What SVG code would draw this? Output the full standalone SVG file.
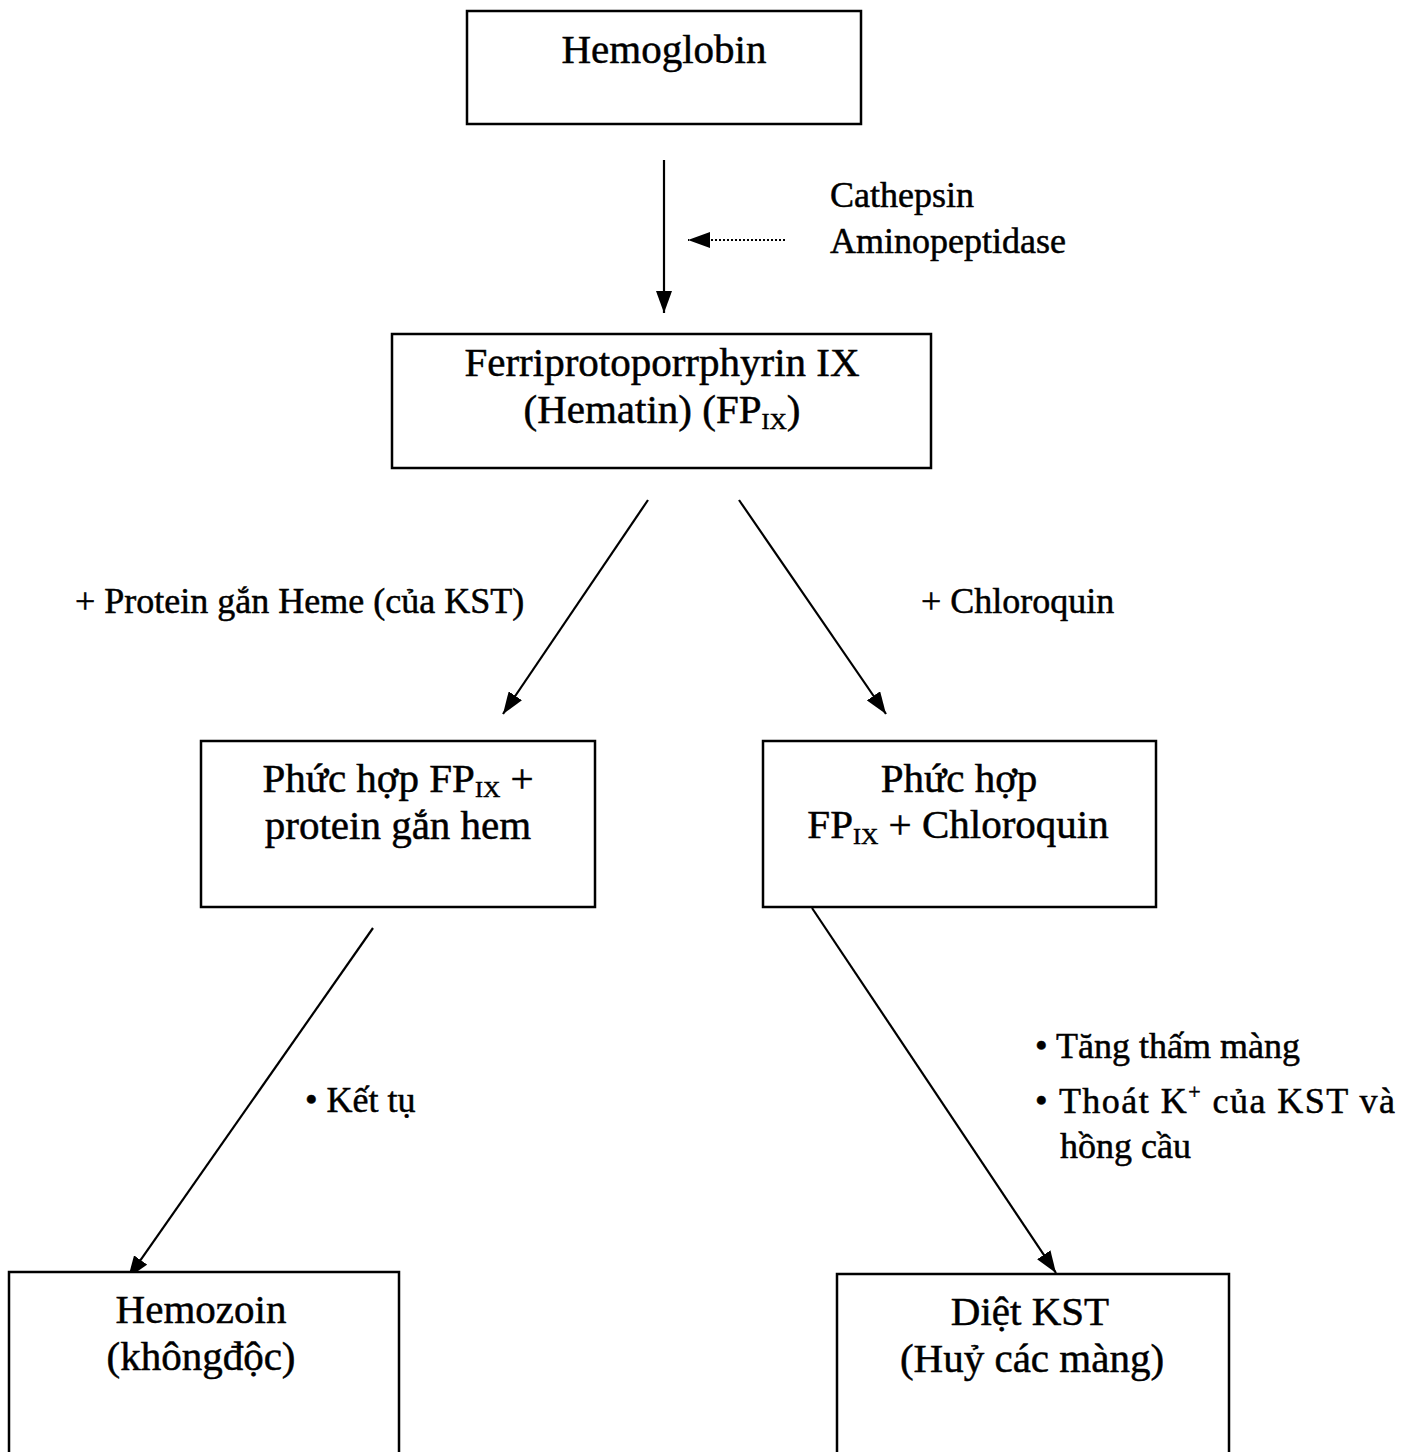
<svg xmlns="http://www.w3.org/2000/svg" width="1409" height="1452" viewBox="0 0 1409 1452">
  <style>
    .box { fill: #fff; stroke: #000; stroke-width: 2.5; }
    .t { font-family: "Liberation Serif", "Times New Roman", serif; fill: #000; stroke: #000; stroke-width: 0.5; }
    .big { font-size: 41px; text-anchor: middle; }
    .lbl { font-size: 36px; }
    .sub { font-size: 24px; }
    .edge { stroke: #000; stroke-width: 2.2; fill: none; }
  </style>
  <defs>
    <marker id="head" viewBox="0 0 22 16" refX="22" refY="8" markerWidth="22" markerHeight="16" markerUnits="userSpaceOnUse" orient="auto">
      <path d="M0,0 L22,8 L0,16 z" fill="#000"/>
    </marker>
  </defs>

  <rect width="1409" height="1452" fill="#fff"/>

  <g id="connectors">
    <line class="edge" x1="664" y1="160" x2="664" y2="313" marker-end="url(#head)"/>
    <line class="edge" x1="785" y1="240" x2="688" y2="240" stroke-dasharray="2 2" stroke-width="1.6" marker-end="url(#head)"/>
    <line class="edge" x1="648" y1="500" x2="503" y2="714" marker-end="url(#head)"/>
    <line class="edge" x1="739" y1="500" x2="886" y2="714" marker-end="url(#head)"/>
    <line class="edge" x1="373" y1="928" x2="128" y2="1278" marker-end="url(#head)"/>
    <line class="edge" x1="812" y1="908" x2="1056" y2="1273" marker-end="url(#head)"/>
  </g>

  <g id="hemoglobin">
    <rect class="box" x="467" y="11" width="394" height="113"/>
    <text class="t big" x="664" y="63">Hemoglobin</text>
  </g>

  <g id="enzymes">
    <text class="t lbl" x="830" y="207">Cathepsin</text>
    <text class="t lbl" x="830" y="253">Aminopeptidase</text>
  </g>

  <g id="hematin">
    <rect class="box" x="392" y="334" width="539" height="134"/>
    <text class="t big" x="662" y="376">Ferriprotoporrphyrin IX</text>
    <text class="t big" x="662" y="423">(Hematin) (FP<tspan class="sub" dy="6">IX</tspan><tspan dy="-6">)</tspan></text>
  </g>

  <g id="label-protein">
    <text class="t lbl" x="75" y="613">+ Protein gắn Heme (của KST)</text>
  </g>

  <g id="label-chloroquin">
    <text class="t lbl" x="921" y="613">+ Chloroquin</text>
  </g>

  <g id="complex-protein">
    <rect class="box" x="201" y="741" width="394" height="166"/>
    <text class="t big" x="398" y="792">Phức hợp FP<tspan class="sub" dy="5">IX</tspan><tspan dy="-5"> +</tspan></text>
    <text class="t big" x="398" y="839">protein gắn hem</text>
  </g>

  <g id="complex-chloroquin">
    <rect class="box" x="763" y="741" width="393" height="166"/>
    <text class="t big" x="959" y="792">Phức hợp</text>
    <text class="t big" x="958" y="838">FP<tspan class="sub" dy="6">IX</tspan><tspan dy="-6"> + Chloroquin</tspan></text>
  </g>

  <g id="label-ketu">
    <text class="t lbl" x="305" y="1112">• Kết tụ</text>
  </g>

  <g id="label-effects">
    <text class="t lbl" x="1035" y="1058">• Tăng thấm màng</text>
    <text class="t lbl" x="1035" y="1113" textLength="360" lengthAdjust="spacing">• Thoát K<tspan font-size="22" dy="-14">+</tspan><tspan dy="14"> của KST và</tspan></text>
    <text class="t lbl" x="1060" y="1158">hồng cầu</text>
  </g>

  <g id="hemozoin">
    <rect class="box" x="9" y="1272" width="390" height="200"/>
    <text class="t big" x="201" y="1323">Hemozoin</text>
    <text class="t big" x="201" y="1370">(khôngđộc)</text>
  </g>

  <g id="diet-kst">
    <rect class="box" x="837" y="1274" width="392" height="200"/>
    <text class="t big" x="1030" y="1325">Diệt KST</text>
    <text class="t big" x="1032" y="1372">(Huỷ các màng)</text>
  </g>
</svg>
